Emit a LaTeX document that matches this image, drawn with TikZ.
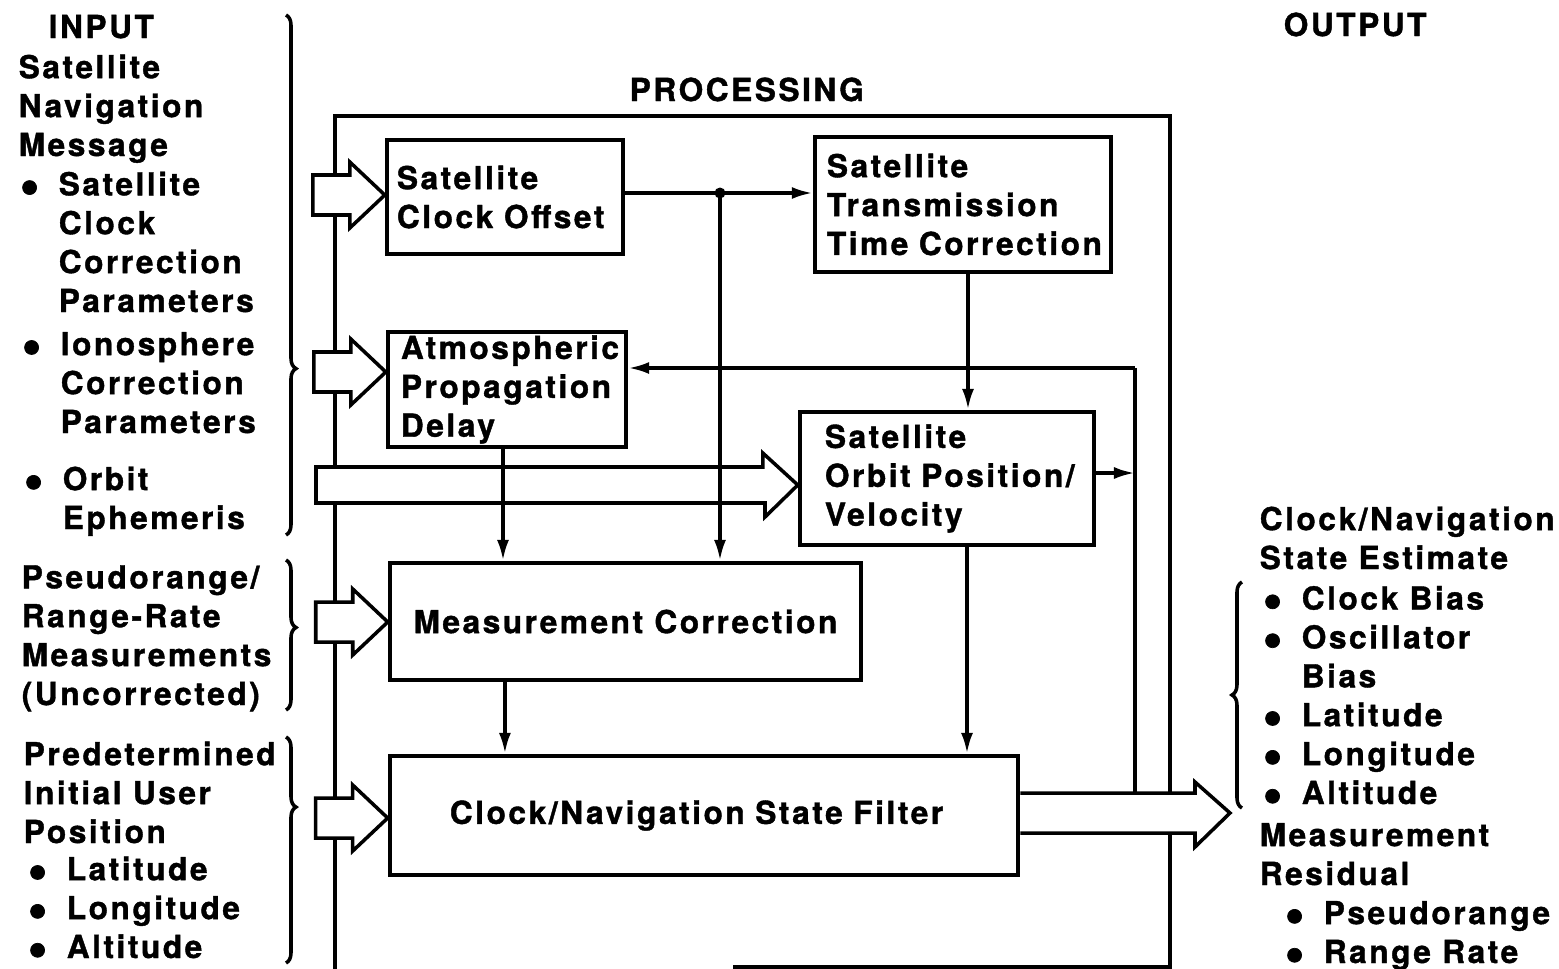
\documentclass[tikz,border=0pt]{standalone}
\usepackage{fontspec}
\setmainfont{TeX Gyre Heros}[LetterSpace=8,BoldFeatures={FakeBold=1.2}]
\usepackage{tikz}
\usetikzlibrary{arrows.meta,decorations.pathreplacing}

\newcommand{\bul}{\makebox[0.39cm][l]{\raisebox{-2.6pt}[0pt][0pt]{\fontsize{16}{16}\selectfont\textbullet}}}
\newcommand{\ind}{\hspace*{0.39cm}}

\begin{document}
\begin{tikzpicture}[>={Latex[length=0.21cm,width=0.12cm]},x=0.01cm,y=-0.01cm,line width=1pt,
  block node/.style={draw,fill=white,line width=1.2pt,inner sep=0pt,align=left,font=\fontsize{9}{11.06}\selectfont\bfseries},
  text node/.style={inner sep=0pt,anchor=base west,align=left,font=\fontsize{9}{11.06}\selectfont\bfseries},
  fat arrow/.style={draw,fill=white,line join=miter},
  brace line/.style={decorate,decoration={brace,amplitude=0.1cm,aspect=#1}}]

  \useasboundingbox (0,0) rectangle (1559,969);

  % loop round the processing part
  \draw (335,969) -- (335,116) -- (1170,116) -- (1170,967) -- (733,967);

  % processing blocks
  \node[block node,minimum width=2.36cm,minimum height=1.14cm,text width=2.16cm] (clk) at (505,197) {Satellite\\Clock Offset};
  \node[block node,minimum width=2.38cm,minimum height=1.15cm,text width=2.12cm] (atm) at (507,389.5) {Atmospheric\\Propagation\\Delay};
  \node[block node,minimum width=2.96cm,minimum height=1.35cm,text width=2.72cm] (xmit) at (963,204.5) {Satellite\\Transmission\\Time Correction};
  \node[block node,minimum width=2.94cm,minimum height=1.33cm,text width=2.44cm] (orb) at (947,478.5) {Satellite\\Orbit Position/\\Velocity};
  \node[block node,minimum width=4.71cm,minimum height=1.17cm] (meas) at (625.5,621.5) {Measurement Correction};
  \node[block node,minimum width=6.28cm,minimum height=1.19cm,text width=5.08cm] (filt) at (704,815.5) {Clock/Navigation State Filter};

  % inputs
  \foreach \b/\y in {clk/195, atm/372, meas/622, filt/818}
    \draw[fat arrow] (\b.west |- 0,\y) -- ++(-35,-33) -- ++(0,13) -- ++(-37,0) -- ++(0,40) -- ++(37,0) -- ++(0,13) -- cycle;
  \draw[fat arrow] (orb.west |- 0,485) -- ++(-35,-32) -- ++(0,14) -- (316,467) -- (316,503) -- (765,503) -- ++(0,14) -- cycle;

  % signal flow
  \coordinate (jct) at (720,193);
  \coordinate (fbk) at (1135,368);
  \coordinate (out) at (1230,813);
  \draw[->] (clk.east |- jct) -- (xmit.west |- jct);
  \fill (jct) circle (0.055cm);
  \draw[->] (jct) -- (jct |- meas.north);
  \draw[->] ([xshift=0.05cm]xmit.south) -- ([xshift=0.05cm]xmit.south |- orb.north);
  \draw[->] ([xshift=-0.04cm]atm.south) -- ([xshift=-0.04cm]atm.south |- meas.north);
  \draw[->] (fbk) -- (atm.east |- fbk);
  \draw (fbk) -- (fbk |- out);
  \draw[->] (orb.east |- 0,473) -- (fbk |- 0,473);
  \draw[->] ([xshift=0.2cm]orb.south) -- ([xshift=0.2cm]orb.south |- filt.north);
  \draw[->] ([xshift=-1.205cm]meas.south) -- ([xshift=-1.205cm]meas.south |- filt.north);

  % output
  \draw[fat arrow] (filt.east |- 0,793) -- (1195,793) -- ++(0,-11) -- (out) -- (1195,847) -- ++(0,-14) -- (filt.east |- 0,833);

  % headings
  \node[text node] (inhead) at (47,38) {INPUT};
  \node[text node] (prochead) at (628,101) {PROCESSING};
  \node[text node] (outhead) at (1282,36) {OUTPUT};

  % input texts (anchored on their last line)
  \node[text node] (navmsg) at (17,156) {Satellite\\Navigation\\Message};
  \node[text node] (clkpar) at (18,312) {\bul Satellite\\\ind Clock\\\ind Correction\\\ind Parameters};
  \node[text node] (ionpar) at (20,433) {\bul Ionosphere\\\ind Correction\\\ind Parameters};
  \node[text node] (ephem) at (22,529) {\bul Orbit\\\ind Ephemeris};
  \node[text node] (pseudo) at (20,705) {Pseudorange/\\Range-Rate\\Measurements\\(Uncorrected)};
  \node[text node] (initpos) at (22,843) {Predetermined\\Initial User\\Position};
  \node[text node] (initlla) at (26,958) {\bul Latitude\\\bul Longitude\\\bul Altitude};

  % output texts
  \node[text node] (estim) at (1258,569) {Clock/Navigation\\State Estimate};
  \node[text node] (estlist) at (1261,804) {\bul Clock Bias\\\bul Oscillator\\\ind Bias\\\bul Latitude\\\bul Longitude\\\bul Altitude};
  \node[text node] (resid) at (1258,885) {Measurement\\Residual};
  \node[text node] (reslist) at (1283,963) {\bul Pseudorange\\\bul Range Rate};

  % braces
  \draw[brace line=0.68] (286,15) -- (286,535);
  \draw[brace line=0.45] (286,560) -- (286,710);
  \draw[brace line=0.31] (286,737) -- (286,963);
  \draw[brace line=0.5] (1242,808) -- (1242,582);
\end{tikzpicture}
\end{document}
